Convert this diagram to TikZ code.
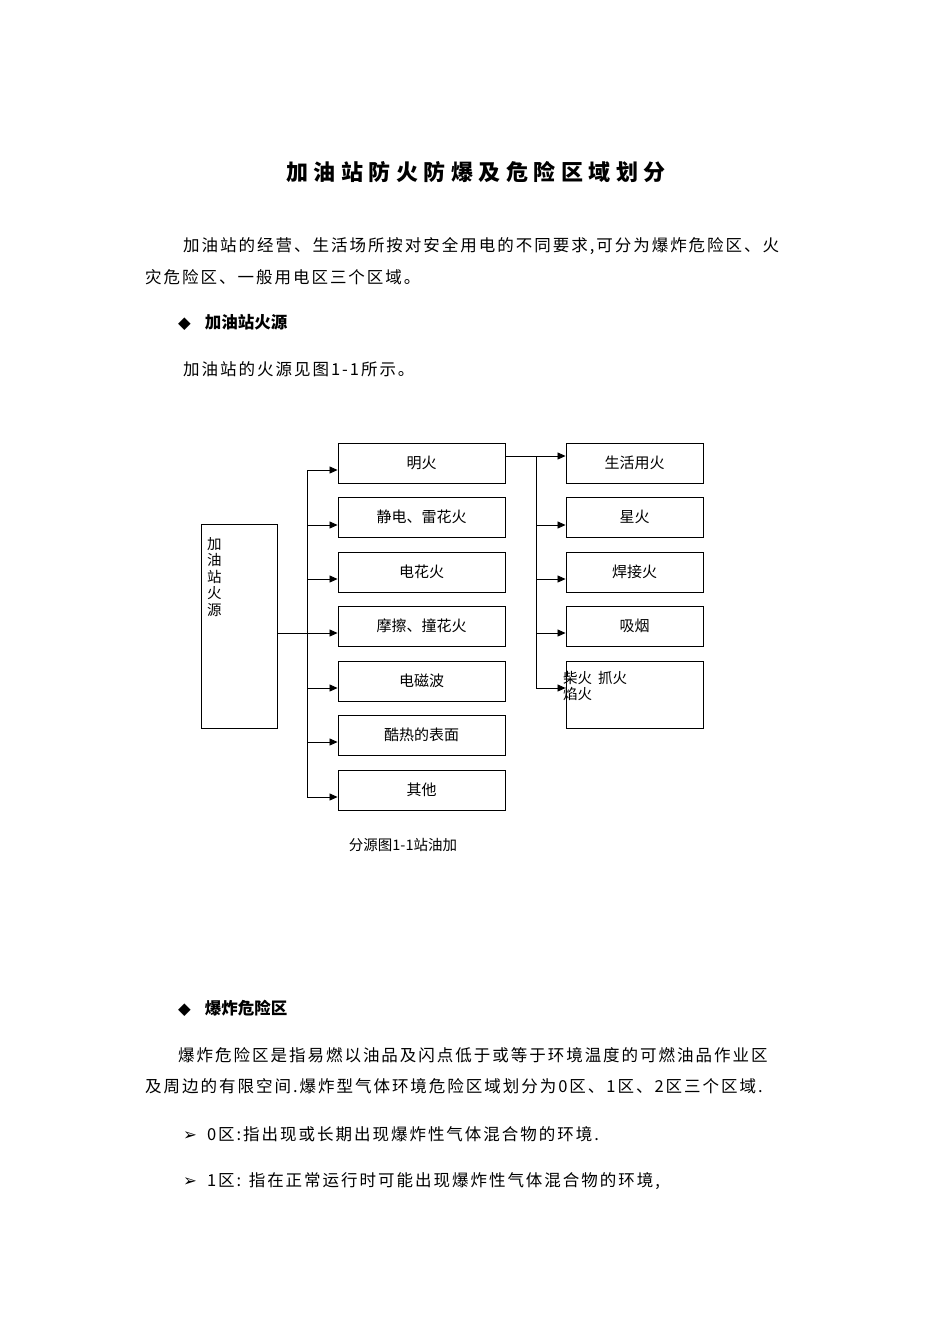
\documentclass[tikz,border=0pt]{standalone}
\usepackage{fontspec}
\setmainfont{Liberation Serif}
\newfontfamily\cjk{Noto Sans CJK SC}
\newfontfamily\cjks[LetterSpace=12]{Noto Sans CJK SC}
\newfontfamily\cjkt[LetterSpace=25]{Noto Sans CJK SC}
\newfontfamily\sym{DejaVu Sans}
\usetikzlibrary{arrows.meta}
\begin{document}
\begin{tikzpicture}[x=1pt,y=-1pt,
  bx/.style={draw,line width=0.9pt,minimum width=167pt,minimum height=40pt,inner sep=0pt,font=\cjk\fontsize{15}{17}\selectfont},
  rb/.style={draw,line width=0.9pt,minimum width=137pt,minimum height=40pt,inner sep=0pt,font=\cjk\fontsize{15}{17}\selectfont},
  ar/.style={-{Triangle[length=8pt,width=7pt]},line width=0.8pt},
  ln/.style={line width=0.8pt},
  txt/.style={anchor=west,inner sep=0pt,font=\cjks\fontsize{16.5}{18}\selectfont}]
\useasboundingbox (0,0) rectangle (950,1344);
\fill[white] (0,0) rectangle (950,1344);
\node[inner sep=0pt,font=\cjkt\bfseries\fontsize{22}{24}\selectfont] (title) at (476,172) {加油站防火防爆及危险区域划分};
\node[txt] (p1) at (183,246) {加油站的经营、生活场所按对安全用电的不同要求,可分为爆炸危险区、火};
\node[txt] (p2) at (145,277) {灾危险区、一般用电区三个区域。};
\node[txt,font=\cjk\bfseries\fontsize{16.5}{18}\selectfont] (h1) at (178,322) {{\sym ◆}\hspace{14pt}加油站火源};
\node[txt] (p3) at (183,369) {加油站的火源见图1-1所示。};
% diagram
\node[draw,line width=0.9pt,minimum width=76pt,minimum height=204pt,inner sep=0pt] (src) at (239,626) {};
\node[anchor=north west,inner sep=0pt,align=left,font=\cjk\fontsize{14.5}{16.5}\selectfont] (srct) at (207,537) {加\\油\\站\\火\\源};
\node[bx] (m1) at (421.5,463) {明火};
\node[bx] (m2) at (421.5,517) {静电、雷花火};
\node[bx] (m3) at (421.5,572) {电花火};
\node[bx] (m4) at (421.5,626) {摩擦、撞花火};
\node[bx] (m5) at (421.5,681) {电磁波};
\node[bx] (m6) at (421.5,735) {酷热的表面};
\node[bx] (m7) at (421.5,790) {其他};
\node[rb] (r1) at (634.5,463) {生活用火};
\node[rb] (r2) at (634.5,517) {星火};
\node[rb] (r3) at (634.5,572) {焊接火};
\node[rb] (r4) at (634.5,626) {吸烟};
\node[rb,minimum height=67pt] (r5) at (634.5,694.5) {};
\node[anchor=north west,inner sep=0pt,align=left,font=\cjk\fontsize{14.5}{16.5}\selectfont] (r5t) at (563,671) {柴火\hspace{6pt}抓火\\焰火};
\coordinate (bl) at (307,633);
\coordinate (br) at (536,456);
\draw[ln] (src.east|-bl) -- (bl);
\draw[ln] (307,470) -- (307,797);
\foreach \n/\y in {m1/470,m2/525,m3/579,m4/633,m5/688,m6/742,m7/797}
  \draw[ar] (307,\y) -- (\n.west|-{(0,\y)});
\draw[ar] (m1.east|-br) -- (r1.west|-br);
\draw[ln] (br) -- (536,688);
\foreach \n/\y in {r2/525,r3/579,r4/633,r5/688}
  \draw[ar] (536,\y) -- (\n.west|-{(0,\y)});
\node[inner sep=0pt,font=\cjk\fontsize{14.5}{16}\selectfont] (cap) at (403,845) {分源图1-1站油加};
% lower text
\node[txt,font=\cjk\bfseries\fontsize{16.5}{18}\selectfont] (h2) at (178,1008) {{\sym ◆}\hspace{14pt}爆炸危险区};
\node[txt] (p4) at (178,1055) {爆炸危险区是指易燃以油品及闪点低于或等于环境温度的可燃油品作业区};
\node[txt] (p5) at (145,1086) {及周边的有限空间.爆炸型气体环境危险区域划分为0区、1区、2区三个区域.};
\node[txt] (p6) at (183,1134) {{\sym ➢}\hspace{10pt}0区:指出现或长期出现爆炸性气体混合物的环境.};
\node[txt] (p7) at (183,1181) {{\sym ➢}\hspace{10pt}1区: 指在正常运行时可能出现爆炸性气体混合物的环境,};
\end{tikzpicture}
\end{document}
